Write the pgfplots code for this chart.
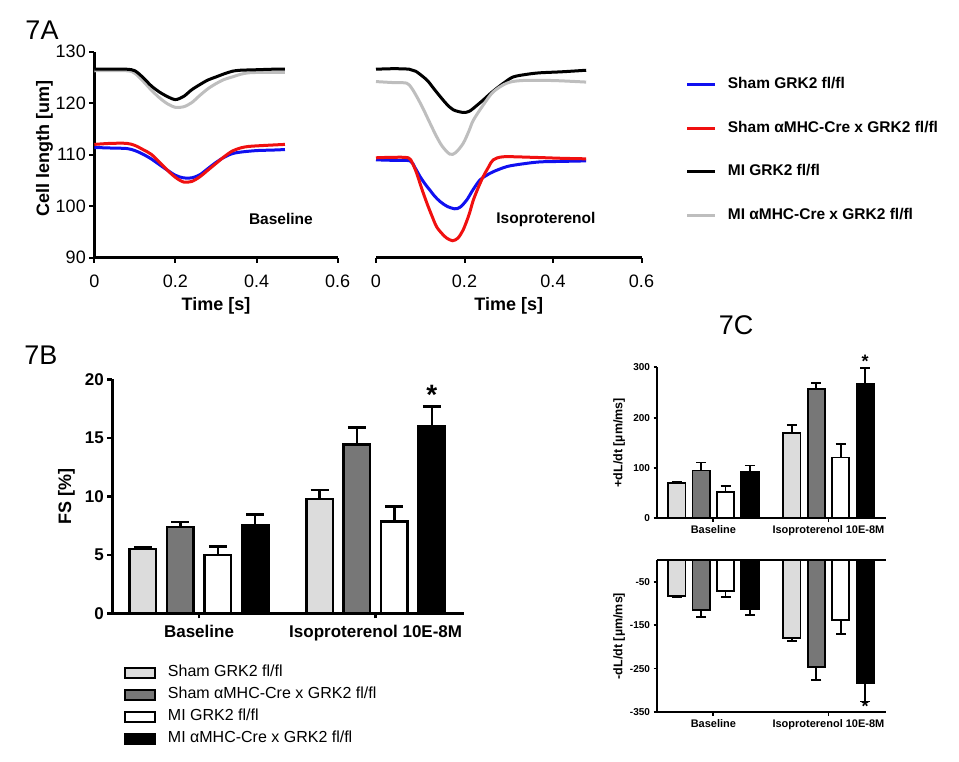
\documentclass[border=0pt]{standalone}
\usepackage{pgfplots}
\pgfplotsset{compat=1.18}
\usepackage{fontspec}
\setmainfont{Liberation Sans}
\newcommand{\fs}[1]{\fontsize{#1}{#1}\selectfont}
\definecolor{lgray}{HTML}{DCDCDC}
\definecolor{dgray}{HTML}{777777}
\definecolor{cgray}{HTML}{BEBEBE}
\definecolor{cblue}{HTML}{1010F0}
\definecolor{cred}{HTML}{F01010}
\pgfplotsset{
  myaxis/.style={anchor=south west, scale only axis, clip=false,
    axis x line*=bottom, axis y line*=left, tick align=outside,
    /pgf/number format/assume math mode=true},
  barA/.style={ybar, bar shift=0pt, bar width=0.15, draw=black, line width=2.5pt,
    error bars/y dir=plus, error bars/y explicit,
    error bars/error bar style={line width=2.5pt, black},
    error bars/error mark options={rotate=90, mark size=9pt, line width=2.5pt, black}},
  barC/.style={ybar, bar shift=0pt, bar width=0.15, draw=black, line width=1.8pt,
    error bars/y dir=#1, error bars/y explicit,
    error bars/error bar style={line width=1.8pt, black},
    error bars/error mark options={rotate=90, mark size=5pt, line width=1.8pt, black}},
}
\begin{document}
\begin{tikzpicture}
\path[use as bounding box] (0pt,0pt) rectangle (959pt,-761pt);
\node[font=\fs{27}] at (42pt,-30pt) {7A};
\node[font=\fs{27}] at (41pt,-355pt) {7B};
\node[font=\fs{27}] at (736pt,-325pt) {7C};

% ---------- 7A left ----------
\begin{axis}[myaxis, at={(94.3pt,-257.7pt)}, width=243.4pt, height=206pt,
  xmin=0, xmax=0.6, ymin=90, ymax=130,
  axis line style={line width=2.5pt}, tick style={line width=2pt, black}, major tick length=5pt,
  xtick={0,0.2,0.4,0.6}, ytick={90,100,110,120,130},
  tick label style={font=\fs{18}}, xticklabel style={yshift=-9pt},
  xlabel={Time [s]}, ylabel={Cell length [um]},
  label style={font=\fs{18}\bfseries},
  xlabel style={at={(axis description cs:0.5,-0.235)}, anchor=center},
  ylabel style={at={(axis description cs:-0.205,0.528)}, anchor=center}]
\addplot[cgray, line width=3pt, smooth] coordinates {(0,126.3) (0.08,126.3) (0.1,125.8) (0.12,124.3) (0.14,122.6) (0.16,121.1) (0.18,119.9) (0.2,119.2) (0.22,119.3) (0.24,120.1) (0.26,121.5) (0.28,122.8) (0.30,123.8) (0.32,124.6) (0.34,125.1) (0.36,125.6) (0.38,125.9) (0.42,126.0) (0.47,126.0)};
\addplot[black, line width=3pt, smooth] coordinates {(0,126.6) (0.04,126.6) (0.08,126.6) (0.1,126.3) (0.12,125) (0.14,123.4) (0.16,122.2) (0.18,121.3) (0.2,120.7) (0.22,121.3) (0.24,122.6) (0.26,123.6) (0.28,124.5) (0.30,125.1) (0.32,125.7) (0.34,126.2) (0.36,126.4) (0.40,126.5) (0.44,126.6) (0.47,126.6)};
\addplot[cblue, line width=3pt, smooth] coordinates {(0,111.4) (0.04,111.3) (0.08,111.2) (0.1,110.8) (0.12,110.1) (0.14,109.2) (0.16,108.1) (0.18,107.0) (0.2,106.0) (0.22,105.5) (0.24,105.5) (0.26,106.1) (0.28,107.3) (0.30,108.5) (0.32,109.5) (0.34,110.2) (0.36,110.5) (0.40,110.8) (0.44,110.9) (0.47,111.0)};
\addplot[cred, line width=3pt, smooth] coordinates {(0,112.0) (0.04,112.2) (0.08,112.2) (0.1,111.8) (0.12,111.0) (0.14,110.1) (0.16,108.6) (0.18,107.0) (0.2,105.6) (0.22,104.7) (0.24,104.8) (0.26,105.7) (0.28,107.0) (0.30,108.3) (0.32,109.6) (0.34,110.7) (0.36,111.3) (0.38,111.6) (0.42,111.8) (0.47,112.0)};
\node[font=\fs{15.5}\bfseries] at (axis cs:0.46,97.5) {Baseline};
\end{axis}

% ---------- 7A right ----------
\begin{axis}[myaxis, at={(376pt,-257.7pt)}, width=265.5pt, height=206pt,
  xmin=0, xmax=0.6, ymin=90, ymax=130, axis y line=none,
  axis line style={line width=2.5pt}, tick style={line width=2pt, black}, major tick length=5pt,
  xtick={0,0.2,0.4,0.6},
  tick label style={font=\fs{18}}, xticklabel style={yshift=-9pt},
  xlabel={Time [s]},
  label style={font=\fs{18}\bfseries},
  xlabel style={at={(axis description cs:0.5,-0.235)}, anchor=center},
  legend image code/.code={\draw[#1, line width=3pt] (0pt,0pt) -- (28pt,0pt);},
  legend cell align=left,
  legend style={draw=none, fill=none, font=\fs{15.5}\bfseries, at={(axis description cs:1.155,0.9)}, anchor=north west, row sep=23pt,
    nodes={inner sep=3pt, text height=11pt, text depth=3.5pt},
    /tikz/every odd column/.append style={column sep=8pt}}]
\addplot[cblue, line width=3pt, smooth] coordinates {(0,109.0) (0.04,108.9) (0.077,108.8) (0.088,107.5) (0.1,105.7) (0.111,104.3) (0.122,103.1) (0.133,101.9) (0.145,100.9) (0.16,100.0) (0.178,99.5) (0.19,99.8) (0.205,101.2) (0.22,103.3) (0.235,105.1) (0.25,106.0) (0.265,106.7) (0.296,107.7) (0.33,108.2) (0.37,108.6) (0.42,108.7) (0.475,108.8)};
\addlegendentry{Sham GRK2 fl/fl}
\addplot[cred, line width=3pt, smooth] coordinates {(0,109.4) (0.04,109.5) (0.073,109.4) (0.082,108.4) (0.092,106.4) (0.103,103.5) (0.115,100.6) (0.126,98.2) (0.137,96.0) (0.15,94.6) (0.16,93.8) (0.173,93.3) (0.185,93.8) (0.197,95.4) (0.21,98.3) (0.22,101.2) (0.232,103.8) (0.242,105.7) (0.255,107.7) (0.265,109.0) (0.288,109.6) (0.35,109.5) (0.42,109.3) (0.475,109.2)};
\addlegendentry{Sham αMHC-Cre x GRK2 fl/fl}
\addplot[black, line width=3pt, smooth] coordinates {(0,126.6) (0.04,126.7) (0.075,126.6) (0.09,126.2) (0.115,124.5) (0.13,122.9) (0.145,121.3) (0.16,119.8) (0.175,118.7) (0.197,118.2) (0.21,118.4) (0.22,119.0) (0.242,120.6) (0.26,122.0) (0.273,122.9) (0.29,124.0) (0.31,125.1) (0.34,125.6) (0.37,125.9) (0.42,126.1) (0.475,126.4)};
\addlegendentry{MI GRK2 fl/fl}
\addplot[cgray, line width=3pt, smooth] coordinates {(0,124.2) (0.04,124.0) (0.069,123.9) (0.08,123.0) (0.092,121.3) (0.105,119.2) (0.115,117.4) (0.125,115.6) (0.137,113.5) (0.15,111.6) (0.167,110.1) (0.18,110.4) (0.197,112.2) (0.21,114.6) (0.22,116.7) (0.242,119.6) (0.265,122.2) (0.296,123.9) (0.33,124.4) (0.4,124.4) (0.475,124.1)};
\addlegendentry{MI αMHC-Cre x GRK2 fl/fl}
\node[font=\fs{15.5}\bfseries] at (axis cs:0.384,97.5) {Isoproterenol};
\end{axis}

% ---------- 7B ----------
\begin{axis}[myaxis, at={(112.3pt,-613.3pt)}, width=351.7pt, height=234pt,
  xmin=-0.491, xmax=1.5, ymin=0, ymax=20,
  axis line style={line width=2.5pt}, tick style={line width=2.5pt, black}, major tick length=5pt,
  xtick={0,1}, xticklabels={Baseline,Isoproterenol 10E-8M}, ytick={0,5,10,15,20},
  tick label style={font=\fs{17}\bfseries}, xticklabel style={yshift=-3pt},
  ylabel={FS [\%]},
  ylabel style={font=\fs{18}\bfseries, at={(axis description cs:-0.13,0.498)}, anchor=center},
  legend image code/.code={\draw[#1, line width=2pt] (0pt,-5pt) rectangle (30pt,5pt);},
  legend cell align=left,
  legend style={draw=none, fill=none, font=\fs{16}, at={(axis description cs:0.024,-0.198)}, anchor=north west, row sep=0pt,
    nodes={inner sep=3pt, text height=12pt, text depth=4pt},
    /tikz/every odd column/.append style={column sep=9pt}}]
\addplot[barA, fill=lgray] coordinates {(-0.318,5.5) +- (0,0.14) (0.682,9.77) +- (0,0.77)};
\addlegendentry{Sham GRK2 fl/fl}
\addplot[barA, fill=dgray] coordinates {(-0.106,7.38) +- (0,0.42) (0.894,14.41) +- (0,1.45)};
\addlegendentry{Sham αMHC-Cre x GRK2 fl/fl}
\addplot[barA, fill=white] coordinates {(0.106,4.98) +- (0,0.72) (1.106,7.83) +- (0,1.28)};
\addlegendentry{MI GRK2 fl/fl}
\addplot[barA, fill=black] coordinates {(0.318,7.52) +- (0,0.91) (1.318,15.95) +- (0,1.71)};
\addlegendentry{MI αMHC-Cre x GRK2 fl/fl}
\node[font=\fs{28}\bfseries, anchor=base] at (axis cs:1.318,17.85) {*};
\end{axis}

% ---------- 7C top ----------
\begin{axis}[myaxis, at={(657pt,-518.3pt)}, width=229pt, height=151pt,
  xmin=-0.49, xmax=1.5, ymin=0, ymax=300,
  axis line style={line width=1.8pt}, tick style={line width=1.8pt, black}, major tick length=3.5pt,
  xtick={0,1}, xticklabels={Baseline,Isoproterenol 10E-8M}, ytick={0,100,200,300},
  tick label style={font=\fs{10}\bfseries}, xticklabel style={font=\fs{11}\bfseries},
  ylabel={+dL/dt [µm/ms]},
  ylabel style={font=\fs{12.5}\bfseries, at={(axis description cs:-0.165,0.5)}, anchor=center}]
\addplot[barC=plus, fill=lgray] coordinates {(-0.318,70) +- (0,3) (0.682,170) +- (0,15)};
\addplot[barC=plus, fill=dgray] coordinates {(-0.106,95) +- (0,16) (0.894,257) +- (0,12)};
\addplot[barC=plus, fill=white] coordinates {(0.106,52) +- (0,12) (1.106,121) +- (0,26)};
\addplot[barC=plus, fill=black] coordinates {(0.318,93) +- (0,12) (1.318,268) +- (0,31)};
\node[font=\fs{18}\bfseries, anchor=base] at (axis cs:1.318,300) {*};
\end{axis}

% ---------- 7C bottom ----------
\begin{axis}[myaxis, at={(657pt,-712pt)}, width=229pt, height=152pt,
  xmin=-0.49, xmax=1.5, ymin=-350, ymax=0,
  axis line style={line width=1.8pt}, tick style={line width=1.8pt, black}, major tick length=3.5pt,
  xtick={0,1}, xticklabels={Baseline,Isoproterenol 10E-8M}, ytick={-50,-150,-250,-350},
  tick label style={font=\fs{10}\bfseries}, xticklabel style={font=\fs{11}\bfseries},
  ylabel={-dL/dt [µm/ms]},
  ylabel style={font=\fs{12.5}\bfseries, at={(axis description cs:-0.165,0.5)}, anchor=center}]
\addplot[barC=minus, fill=lgray] coordinates {(-0.318,-82) +- (0,4) (0.682,-179) +- (0,8)};
\addplot[barC=minus, fill=dgray] coordinates {(-0.106,-116) +- (0,15) (0.894,-247) +- (0,30)};
\addplot[barC=minus, fill=white] coordinates {(0.106,-71) +- (0,15) (1.106,-139) +- (0,31)};
\addplot[barC=minus, fill=black] coordinates {(0.318,-114) +- (0,12) (1.318,-284) +- (0,42)};
\draw[line width=1.8pt] (rel axis cs:0,1) -- (rel axis cs:1,1);
\node[font=\fs{18}\bfseries, anchor=base] at (axis cs:1.318,-350) {*};
\end{axis}
\end{tikzpicture}
\end{document}
